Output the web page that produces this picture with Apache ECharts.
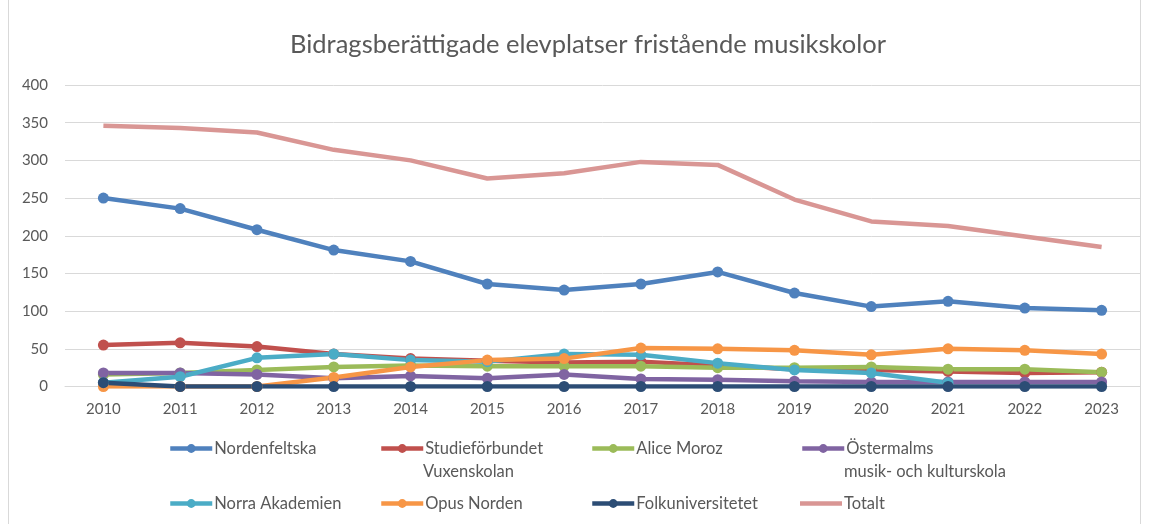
<!DOCTYPE html>
<html><head><meta charset="utf-8">
<script src="https://cdn.jsdelivr.net/npm/echarts@6/dist/echarts.min.js"></script>
<style>html,body{margin:0;padding:0;background:#fff}#c{width:1149px;height:524px}</style>
</head><body><div id="c"></div>
<script>
const years = ['2010','2011','2012','2013','2014','2015','2016','2017','2018','2019','2020','2021','2022','2023'];
const nordenfeltska = [250,236,208,181,166,136,128,136,152,124,106,113,104,101];
const studieforbundet = [55,58,53,43,37,34,32,33,28,23,22,20,18,19];
const aliceMoroz = [16,18,22,26,28,27,27,27,25,25,26,23,23,19];
const ostermalms = [18,18,16,11,14,11,16,10,9,7,6,6,6,6];
const norraAkademien = [5,13,38,43,35,33,43,42,31,22,18,5,null,null];
const opusNorden = [0,0,0,12,26,35,37,51,50,48,42,50,48,43];
const folkuniversitetet = [5,0,0,0,0,0,0,0,0,0,0,0,0,0];
const totalt = [346,343,337,314,300,276,283,298,294,248,219,213,199,185];
const yTicks = [0,50,100,150,200,250,300,350,400];

const seriesDefs = [
  {name:'Nordenfeltska', data:nordenfeltska, color:'#4F81BD', line1:'Nordenfeltska'},
  {name:'Studieförbundet Vuxenskolan', data:studieforbundet, color:'#C0504D', line1:'Studieförbundet', line2:'Vuxenskolan'},
  {name:'Alice Moroz', data:aliceMoroz, color:'#9BBB59', line1:'Alice Moroz'},
  {name:'Östermalms musik- och kulturskola', data:ostermalms, color:'#8064A2', line1:'Östermalms', line2:'musik- och kulturskola'},
  {name:'Norra Akademien', data:norraAkademien, color:'#4BACC6', line1:'Norra Akademien'},
  {name:'Opus Norden', data:opusNorden, color:'#F79646', line1:'Opus Norden'},
  {name:'Folkuniversitetet', data:folkuniversitetet, color:'#2C4D75', line1:'Folkuniversitetet'},
  {name:'Totalt', data:totalt, color:'#D99694', line1:'Totalt', noMarker:true}
];
const font = 'Lato, "Open Sans", sans-serif';
const txt = '#595959';
const legendFs = 16.5;
const legendPos = [[168,440],[379,440],[590,440],[800,440],[168,495],[379,495],[590,495],[800,495]];
const line1Map = {};
seriesDefs.forEach(s=>line1Map[s.name]=s.line1);

const legends = seriesDefs.map((s,i)=>({
  data:[{name:s.name, icon: s.noMarker ? 'rect' : undefined}],
  left:legendPos[i][0], top:legendPos[i][1],
  itemWidth:42, itemHeight:s.noMarker?4.5:11, itemGap:0, padding:0,
  lineStyle:{width:4.5},
  formatter: n=>line1Map[n],
  textStyle:{color:txt, fontSize:legendFs, fontFamily:font, padding:[0,0,0,-3]},
  selectedMode:false
}));
const secondLines = [];
seriesDefs.forEach((s,i)=>{
  if (s.line2) secondLines.push({type:'text', left:legendPos[i][0]+44, top:legendPos[i][1]+23,
    style:{text:s.line2, fill:txt, font:legendFs+'px '+font}, silent:true});
});

const chart = echarts.init(document.getElementById('c'));
chart.setOption({
  animation:false,
  title:{text:'Bidragsberättigade elevplatser fristående musikskolor', left:285, top:27,
    textStyle:{color:txt, fontSize:25.5, fontWeight:'normal', fontFamily:font}},
  legend:legends,
  graphic:[{type:'rect', shape:{x:8.5,y:-2,width:1132,height:528}, style:{fill:'none', stroke:'#d9d9d9', lineWidth:1}, silent:true}].concat(secondLines),
  grid:{left:65, right:9, top:85, bottom:137.5},
  xAxis:{type:'category', data:years, boundaryGap:true,
    axisLine:{lineStyle:{color:'#d9d9d9'}}, axisTick:{show:false},
    axisLabel:{color:txt, fontSize:15, fontFamily:font, margin:15}},
  yAxis:{type:'value', min:yTicks[0], max:yTicks[yTicks.length-1], interval:50,
    axisLine:{show:false}, axisTick:{show:false},
    splitLine:{lineStyle:{color:'#d9d9d9', width:1}},
    axisLabel:{color:txt, fontSize:15, fontFamily:font, margin:17}},
  series:seriesDefs.map(s=>({
    name:s.name, type:'line', data:s.data, connectNulls:false,
    symbol: s.noMarker ? 'none' : 'circle', symbolSize:11, showSymbol:!s.noMarker,
    lineStyle:{color:s.color, width:4.5}, itemStyle:{color:s.color}
  }))
});
</script></body></html>
